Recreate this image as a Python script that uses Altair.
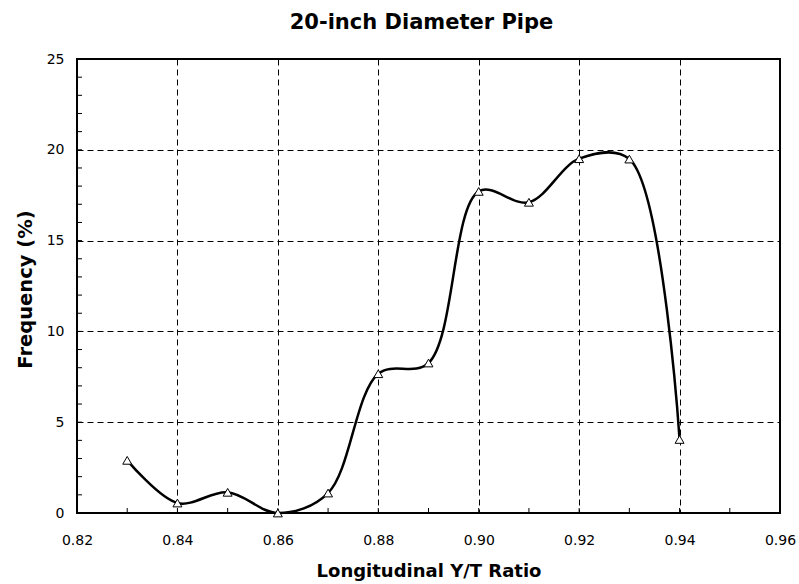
import altair as alt
import pandas as pd

# Data
ratio = [0.83, 0.84, 0.85, 0.86, 0.87, 0.88, 0.89, 0.90, 0.91, 0.92, 0.93, 0.94]
frequency = [2.9, 0.55, 1.14, 0.0, 1.1, 7.67, 8.26, 17.71, 17.11, 19.51, 19.49, 4.05]

x_major_ticks = [0.82, 0.84, 0.86, 0.88, 0.90, 0.92, 0.94, 0.96]
x_minor_ticks = [0.82, 0.83, 0.84, 0.85, 0.86, 0.87, 0.88, 0.89, 0.90, 0.91,
                 0.92, 0.93, 0.94, 0.95, 0.96]
y_major_ticks = [0, 5, 10, 15, 20, 25]
y_minor_ticks = list(range(0, 26))

W, H = 703, 454
FONT = "DejaVu Sans"

df = pd.DataFrame({"ratio": ratio, "freq": frequency})
xt = pd.DataFrame({"ratio": x_minor_ticks})
yt = pd.DataFrame({"freq": y_minor_ticks})

xscale = alt.Scale(domain=[0.82, 0.96], nice=False, zero=False)
yscale = alt.Scale(domain=[0, 25], nice=False)

x_axis = alt.Axis(
    values=x_major_ticks, format=".2f", title="Longitudinal Y/T Ratio",
    grid=True, gridDash=[6, 4], gridColor="#000000", gridWidth=1,
    domain=False, ticks=False, tickSize=0, labelFlush=False,
    labelFont=FONT, labelFontSize=14, labelColor="#000000", labelPadding=20,
    titleFont=FONT, titleFontSize=18, titleFontWeight="bold", titleColor="#000000",
    titleBaseline="alphabetic", titleY=63, titleX=W / 2,
)
y_axis = alt.Axis(
    values=y_major_ticks, title="Frequency (%)",
    grid=True, gridDash=[6, 4], gridColor="#000000", gridWidth=1,
    domain=False, ticks=False, tickSize=0, labelFlush=False,
    labelFont=FONT, labelFontSize=14, labelColor="#000000", labelPadding=13,
    titleFont=FONT, titleFontSize=19.5, titleFontWeight="bold", titleColor="#000000",
    titleBaseline="alphabetic", titleX=-46, titleY=H / 2 + 3, titleAngle=-90,
)

X = alt.X("ratio:Q", scale=xscale, axis=x_axis)
Y = alt.Y("freq:Q", scale=yscale, axis=y_axis)

line = alt.Chart(df).mark_line(
    interpolate="catmull-rom", color="#000000", strokeWidth=2.5
).encode(x=X, y=Y)

points = alt.Chart(df).mark_point(
    shape="triangle-up", size=80, filled=True, fill="#ffffff",
    stroke="#000000", strokeWidth=1, opacity=1,
).encode(x=X, y=Y)

xticks = alt.Chart(xt).mark_rule(color="#000000", strokeWidth=1).encode(
    x=X,
    y=alt.value(H),
    y2=alt.value(H - 5),
)
yticks = alt.Chart(yt).mark_rule(color="#000000", strokeWidth=1).encode(
    y=Y,
    x=alt.value(0),
    x2=alt.value(5),
)

chart = alt.layer(xticks, yticks, line, points).properties(
    width=W, height=H,
    autosize=alt.AutoSizeParams(type="none"),
    padding={"left": 77, "top": 59, "right": 19, "bottom": 71},
    title=alt.TitleParams(
        "20-inch Diameter Pipe", font=FONT, fontSize=21, fontWeight="bold",
        color="#000000", anchor="middle", frame="group", baseline="alphabetic",
        offset=2, dx=-7,
    ),
).configure(
    background="#ffffff"
).configure_view(
    stroke="#000000", strokeWidth=2
)

chart.save("out.html", embed_options={"renderer": "svg", "actions": False})
